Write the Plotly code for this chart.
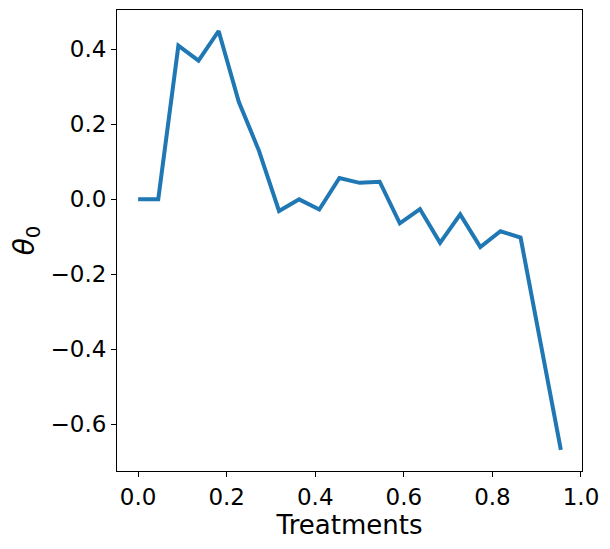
import plotly.graph_objects as go

# treatment positions (i/22) and estimated theta_0
treatments = [i / 22 for i in range(22)]
theta0 = [0.0, 0.0, 0.41, 0.37, 0.449, 0.26, 0.13, -0.031, 0.0, -0.027, 0.057,
          0.044, 0.047, -0.064, -0.026, -0.116, -0.040, -0.127, -0.085, -0.102,
          -0.385, -0.668]

x_ticks = [0.0, 0.2, 0.4, 0.6, 0.8, 1.0]
y_ticks = [-0.6, -0.4, -0.2, 0.0, 0.2, 0.4]

fig = go.Figure()
fig.add_trace(go.Scatter(x=treatments, y=theta0, mode='lines',
                         line=dict(color='#1f77b4', width=4)))

axis_style = dict(showline=True, linecolor='black', linewidth=1, mirror=True,
                  showgrid=False, zeroline=False, ticks='outside', ticklen=5,
                  tickwidth=1, tickcolor='black', tickformat='.1f',
                  tickfont=dict(size=23, color='black'))

fig.update_xaxes(range=[-0.0477, 1.0023], tickvals=x_ticks,
                 title=dict(text='Treatments', font=dict(size=26, color='black'),
                            standoff=6),
                 **axis_style)
fig.update_yaxes(range=[-0.7245, 0.505], tickvals=y_ticks, automargin=True,
                 title=dict(text='<i>θ</i><sub>0</sub>',
                            font=dict(size=28, color='black'), standoff=18),
                 **axis_style)

# page body adds an 8px offset, so the figure is a little smaller
fig.update_layout(width=602, height=541, showlegend=False,
                  plot_bgcolor='white', paper_bgcolor='white',
                  font=dict(family='DejaVu Sans'),
                  margin=dict(l=109, r=28, t=2, b=78))
fig.write_html("out.html")
